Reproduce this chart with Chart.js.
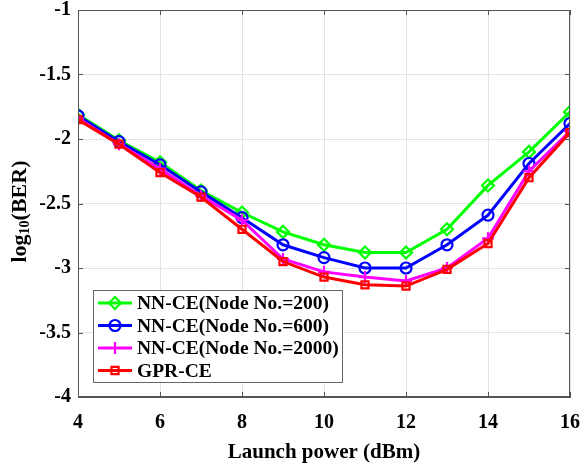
<!DOCTYPE html>
<html>
<head>
    <style>
        body { margin: 0; background: #fff; }
        #wrap { width: 587px; height: 465px; }
    </style>
    <script src="https://cdn.jsdelivr.net/npm/chart.js"></script>
    <title>BER vs launch power</title>
</head>
<body>
    <div id="wrap"><canvas id="ber_chart" width="587" height="465"></canvas></div>
    <script>
        const launchPower = [4, 5, 6, 7, 8, 9, 10, 11, 12, 13, 14, 15, 16];
        const nn200 = [-1.81, -2.01, -2.18, -2.40, -2.57, -2.72, -2.82, -2.88, -2.88, -2.70, -2.36, -2.10, -1.79];
        const nn600 = [-1.82, -2.02, -2.20, -2.41, -2.61, -2.82, -2.92, -3.00, -3.00, -2.82, -2.59, -2.19, -1.88];
        const nn2000 = [-1.84, -2.04, -2.23, -2.44, -2.63, -2.93, -3.03, -3.07, -3.10, -3.00, -2.77, -2.25, -1.94];
        const gpr = [-1.85, -2.04, -2.26, -2.45, -2.70, -2.95, -3.07, -3.13, -3.14, -3.01, -2.81, -2.30, -1.95];
        const seriesNames = ['NN-CE(Node No.=200)', 'NN-CE(Node No.=600)', 'NN-CE(Node No.=2000)', 'GPR-CE'];

        const serif = "'Liberation Serif', 'Times New Roman', serif";
        const toXY = arr => arr.map((v, i) => ({ x: launchPower[i], y: v }));

        function series(label, data, color, style, radius, order) {
            return {
                label: label,
                data: toXY(data),
                borderColor: color,
                backgroundColor: color,
                borderWidth: 3,
                pointStyle: style,
                pointRadius: radius,
                pointHoverRadius: radius,
                pointBorderWidth: 2.2,
                pointBorderColor: color,
                pointBackgroundColor: 'rgba(0,0,0,0)',
                tension: 0,
                order: order
            };
        }

        // legend box inside the plot, titles and the frame
        const decorations = {
            id: 'decorations',
            afterDraw(chart) {
                const ctx = chart.ctx;
                const a = chart.chartArea;
                ctx.save();
                // frame
                ctx.strokeStyle = '#555';
                ctx.lineWidth = 1;
                ctx.strokeRect(a.left + 0.5, a.top + 0.5, a.right - a.left - 1, a.bottom - a.top - 1);

                // inward ticks
                const xs = chart.scales.x, ys = chart.scales.y;
                ctx.beginPath();
                xs.ticks.forEach(t => {
                    const px = Math.round(xs.getPixelForValue(t.value)) + 0.5;
                    ctx.moveTo(px, a.bottom); ctx.lineTo(px, a.bottom - 5);
                    ctx.moveTo(px, a.top); ctx.lineTo(px, a.top + 5);
                });
                ys.ticks.forEach(t => {
                    const py = Math.round(ys.getPixelForValue(t.value)) + 0.5;
                    ctx.moveTo(a.left, py); ctx.lineTo(a.left + 5, py);
                    ctx.moveTo(a.right, py); ctx.lineTo(a.right - 5, py);
                });
                ctx.stroke();

                // x title
                ctx.fillStyle = '#000';
                ctx.font = 'bold 21px ' + serif;
                ctx.textAlign = 'center';
                ctx.textBaseline = 'middle';
                ctx.fillText('Launch power (dBm)', (a.left + a.right) / 2, 453);

                // y title with subscript
                ctx.translate(20, (a.top + a.bottom) / 2 + 8);
                ctx.rotate(-Math.PI / 2);
                ctx.textAlign = 'left';
                const big = 'bold 22px ' + serif, small = 'bold 14px ' + serif;
                ctx.font = big; const w1 = ctx.measureText('log').width;
                const w3 = ctx.measureText('(BER)').width;
                ctx.font = small; const w2 = ctx.measureText('10').width;
                let x0 = -(w1 + w2 + w3) / 2;
                ctx.font = big; ctx.fillText('log', x0, 0);
                ctx.font = small; ctx.fillText('10', x0 + w1, 5);
                ctx.font = big; ctx.fillText('(BER)', x0 + w1 + w2, 0);
                ctx.restore();

                // legend
                ctx.save();
                const bx = 93.5, by = 290.5, bw = 249, bh = 92;
                ctx.fillStyle = '#fff';
                ctx.fillRect(bx, by, bw, bh);
                ctx.strokeStyle = '#666';
                ctx.lineWidth = 1;
                ctx.strokeRect(bx, by, bw, bh);
                ctx.font = 'bold 19.5px ' + serif;
                ctx.textAlign = 'left';
                ctx.textBaseline = 'middle';
                chart.data.datasets.forEach((ds, i) => {
                    const cy = 303 + i * 22.5;
                    ctx.strokeStyle = ds.borderColor;
                    ctx.lineWidth = 3;
                    ctx.beginPath();
                    ctx.moveTo(98, cy); ctx.lineTo(132, cy);
                    ctx.stroke();
                    ctx.lineWidth = ds.pointBorderWidth;
                    ctx.strokeStyle = ds.borderColor;
                    ctx.fillStyle = 'rgba(0,0,0,0)';
                    Chart.helpers.drawPoint(ctx, { pointStyle: ds.pointStyle, radius: ds.pointRadius, borderWidth: ds.pointBorderWidth, rotation: 0 }, 115, cy);
                    ctx.fillStyle = '#000';
                    ctx.fillText(ds.label, 137, cy + 1);
                });
                ctx.restore();
            }
        };

        new Chart(document.getElementById('ber_chart'), {
            type: 'line',
            data: {
                datasets: [
                    series(seriesNames[0], nn200, '#00ff00', 'rectRot', 6, 3),
                    series(seriesNames[1], nn600, '#0000ff', 'circle', 5.5, 2),
                    series(seriesNames[2], nn2000, '#ff00ff', 'cross', 6, 1),
                    series(seriesNames[3], gpr, '#ff0000', 'rect', 5, 0)
                ]
            },
            options: {
                responsive: false,
                animation: false,
                layout: { padding: { top: 10, right: 17, left: 0, bottom: 0 } },
                plugins: { legend: { display: false }, tooltip: { enabled: false } },
                scales: {
                    x: {
                        type: 'linear',
                        min: 4, max: 16,
                        afterFit(scale) { scale.height = 68; scale.paddingLeft = 0; scale.paddingRight = 0; },
                        ticks: { stepSize: 2, color: '#000', padding: 14, font: { family: serif, size: 20, weight: 'bold' } },
                        grid: { color: '#e3e3e3', drawTicks: false },
                        border: { color: '#555' }
                    },
                    y: {
                        min: -4, max: -1,
                        afterFit(scale) { scale.width = 78; scale.paddingTop = 0; scale.paddingBottom = 0; },
                        ticks: {
                            stepSize: 0.5, color: '#000', padding: 7,
                            font: { family: serif, size: 20, weight: 'bold' },
                            callback: v => String(v)
                        },
                        grid: { color: '#e3e3e3', drawTicks: false },
                        border: { color: '#555' }
                    }
                }
            },
            plugins: [decorations]
        });
    </script>
</body>
</html>
